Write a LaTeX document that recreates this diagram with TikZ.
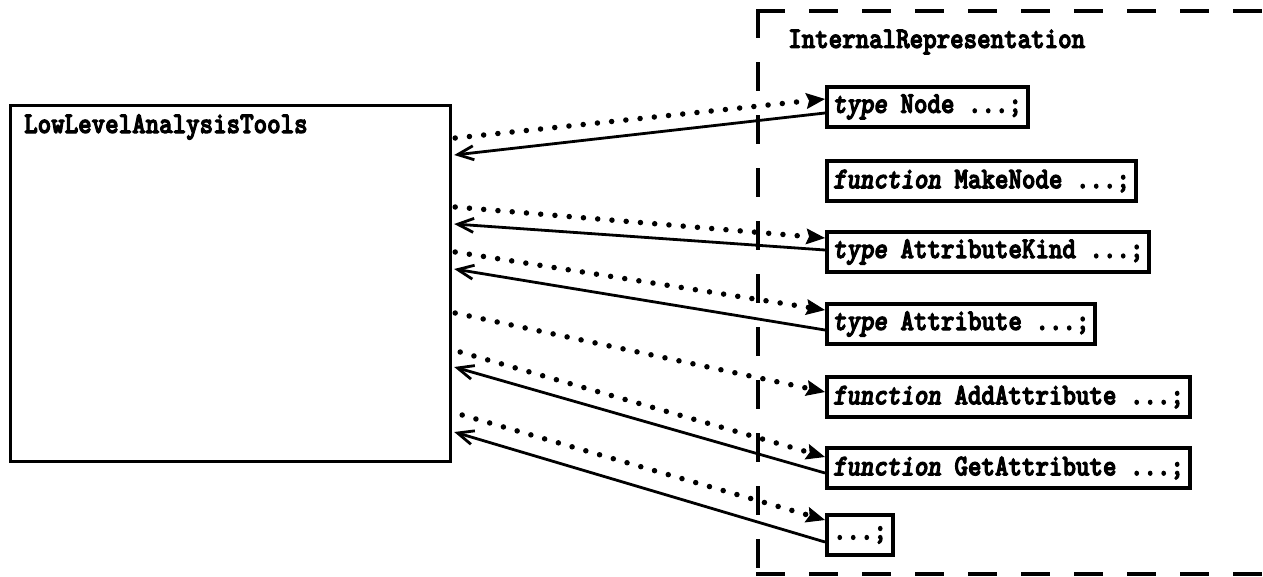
\documentclass[tikz,border=0pt]{standalone}
\usepackage{fontspec}
\usetikzlibrary{arrows.meta}
\newfontfamily\codefont{lmmonolt10-bold}[Extension=.otf, FakeStretch=0.857, FakeBold=3.5,
  BoldFont=lmmonolt10-bold, ItalicFont=lmmonolt10-boldoblique,
  BoldItalicFont=lmmonolt10-boldoblique]
\tikzset{
  code/.style={font=\codefont\fontsize{30}{32}\selectfont},
  modbox/.style={draw, line width=3.2pt, anchor=north west, inner sep=0pt},
  declbox/.style={draw, line width=4pt, anchor=north west, code,
                  minimum height=40pt, inner xsep=6pt, inner ysep=0pt},
  usesline/.style={line width=5.5pt, line cap=round, dash pattern=on 0pt off 14.3pt,
                   -{Stealth[length=19pt,width=16pt,inset=3pt,line width=1pt]}},
  provline/.style={line width=2.8pt,
                   -{Straight Barb[length=16pt,width=14pt,line width=2.8pt]}},
  groupline/.style={line width=4pt, line cap=rect, dash pattern=on 25pt off 28pt},
}
\newcommand{\kw}[1]{\textit{#1}}
\begin{document}
\begin{tikzpicture}[x=1pt, y=-1pt]
\useasboundingbox (0,0) rectangle (1263,576);

% client module
\node[modbox, minimum width=440pt, minimum height=356pt] (llat) at (9,104) {};
\node[code, anchor=west, inner sep=0pt] (llattitle) at (24,127) {LowLevelAnalysisTools};

% dashed group boundary (open to the right)
\coordinate (gtl) at (758,11);
\coordinate (gbl) at (758,574);
\coordinate (gtr) at (1275,11);
\coordinate (gbr) at (1275,574);
\draw[groupline] (gtl) -- (gtr);
\draw[groupline] (gtl) -- (gbl);
\draw[groupline] (gbl) -- (gbr);
\node[code, anchor=west, inner sep=0pt] (irtitle) at (788,42) {InternalRepresentation};

% exported declarations
\node[declbox] (b1) at (825,85)  {\kw{type} Node ...;};
\node[declbox] (b2) at (825,159) {\kw{function} MakeNode ...;};
\node[declbox] (b3) at (825,230) {\kw{type} AttributeKind ...;};
\node[declbox] (b4) at (825,302) {\kw{type} Attribute ...;};
\node[declbox] (b5) at (825,375) {\kw{function} AddAttribute ...;};
\node[declbox] (b6) at (825,446) {\kw{function} GetAttribute ...;};
\node[declbox] (b7) at (825,513) {...;};

% uses (dotted) and provides (solid)
\draw[usesline] ([xshift=3pt,yshift=-34pt]llat.north east)  -- ([yshift=-14pt]b1.north west);
\draw[provline] ([yshift=-28pt]b1.north west) -- ([xshift=2pt,yshift=-51pt]llat.north east);

\draw[usesline] ([xshift=3pt,yshift=-103pt]llat.north east) -- ([yshift=-8pt]b3.north west);
\draw[provline] ([yshift=-20pt]b3.north west) -- ([xshift=2pt,yshift=-120pt]llat.north east);

\draw[usesline] ([xshift=3pt,yshift=-148pt]llat.north east) -- ([yshift=-8pt]b4.north west);
\draw[provline] ([yshift=-28pt]b4.north west) -- ([xshift=2pt,yshift=-165pt]llat.north east);

\draw[usesline] ([xshift=3pt,yshift=-209pt]llat.north east) -- ([yshift=-17pt]b5.north west);

\draw[usesline] ([xshift=8pt,yshift=-248pt]llat.north east) -- ([yshift=-11pt]b6.north west);
\draw[provline] ([yshift=-27pt]b6.north west) -- ([xshift=2pt,yshift=-263pt]llat.north east);

\draw[usesline] ([xshift=10pt,yshift=-311pt]llat.north east) -- ([yshift=-7pt]b7.north west);
\draw[provline] ([yshift=-29pt]b7.north west) -- ([xshift=2pt,yshift=-328pt]llat.north east);
\end{tikzpicture}
\end{document}
